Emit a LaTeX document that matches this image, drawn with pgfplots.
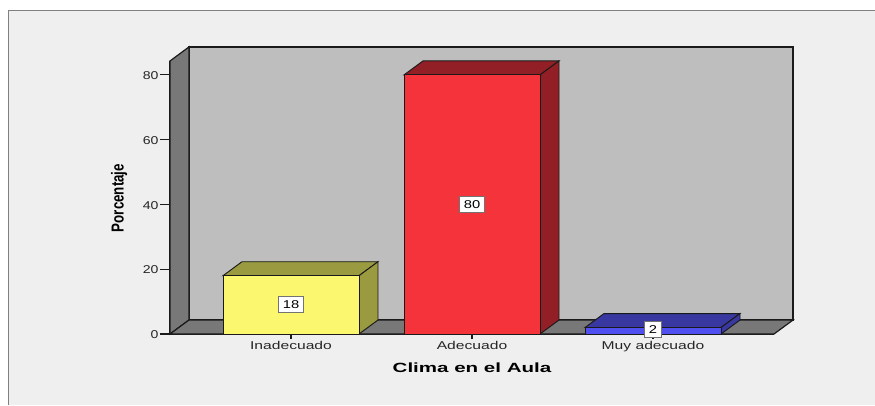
\documentclass[border=0pt]{standalone}
\usepackage{fontspec}
\setmainfont{Liberation Sans}
\usepackage{pgfplots}
\pgfplotsset{compat=1.18}
% 1 px of the reference = 0.75pt
\definecolor{panel}{HTML}{EFEFEF}
\definecolor{wall}{HTML}{BEBEBE}
\definecolor{wallside}{HTML}{787878}
\definecolor{yfront}{HTML}{FBF870}
\definecolor{ydark}{HTML}{9A9A40}
\definecolor{rfront}{HTML}{F4333A}
\definecolor{rdark}{HTML}{921F25}
\definecolor{bfront}{HTML}{5050F0}
\definecolor{bdark}{HTML}{3838A0}
\definecolor{edge}{HTML}{1A1A1A}
\begin{document}
\begin{tikzpicture}[x=1pt,y=1pt]
\useasboundingbox (0,0) rectangle (656.25,303.75);
\fill[white] (0,0) rectangle (656.25,303.75);
\fill[panel] (6.5,0) rectangle (656.25,296);
\draw[gray,line width=1pt] (6.5,0) -- (6.5,296) -- (656.25,296);
\begin{axis}[
	at={(127.5pt,53.25pt)},anchor=south west,
	scale only axis,width=453pt,height=204.75pt,
	xmin=-0.6685,xmax=2.6685,ymin=0,ymax=84.3,
	clip=false,
	axis x line*=bottom,axis y line*=left,
	axis line style={edge,line width=0.9pt,-},
	xtick={0,1,2},
	xticklabels={Inadecuado,Adecuado,Muy adecuado},
	ytick={0,20,40,60,80},
	tick align=outside,
	xtick style={edge,line width=0.8pt,/pgfplots/major tick length=3.75pt},
	ytick style={edge,line width=0.8pt,/pgfplots/major tick length=7.5pt},
	/pgf/number format/assume math mode=true,
	tick label style={font=\fontsize{8.5}{10}\selectfont,text=black!85,xscale=1.38},
	xticklabel style={yshift=2.5pt},
	yticklabel style={xshift=0pt,xscale=0.9,yshift=-0.5pt},
	xlabel={Clima en el Aula},
	ylabel={Porcentaje},
	xlabel style={at={(axis description cs:0.5,-0.124)},anchor=center,font=\fontsize{10}{12}\selectfont\bfseries,xscale=1.54},
	ylabel style={at={(axis description cs:-0.0844,0.498)},anchor=center,font=\fontsize{13}{14}\selectfont\bfseries,xscale=0.77},
	nodes near coords,
]
% walls and floor
\addplot[fill=wall,draw=edge,line width=0.9pt,nodes near coords={}] coordinates {(-0.5635,4.32)(2.7735,4.32)(2.7735,88.65)(-0.5635,88.65)} --cycle;
\addplot[fill=wallside,draw=edge,line width=0.9pt,nodes near coords={}] coordinates {(-0.6685,0)(-0.5635,4.32)(-0.5635,88.65)(-0.6685,84.3)} --cycle;
\addplot[fill=wallside,draw=edge,line width=0.9pt,nodes near coords={}] coordinates {(-0.6685,0)(2.6685,0)(2.7735,4.32)(-0.5635,4.32)} --cycle;
% Inadecuado
\addplot[fill=ydark,draw=edge,line width=0.7pt,nodes near coords={}] coordinates {(-0.3757,18)(0.3757,18)(0.4807,22.32)(-0.2707,22.32)} --cycle;
\addplot[fill=ydark,draw=edge,line width=0.7pt,nodes near coords={}] coordinates {(0.3757,0)(0.4807,4.32)(0.4807,22.32)(0.3757,18)} --cycle;
\addplot[fill=yfront,draw=edge,line width=0.7pt,nodes near coords={}] coordinates {(-0.3757,0)(0.3757,0)(0.3757,18)(-0.3757,18)} --cycle;
% Adecuado
\addplot[fill=rdark,draw=edge,line width=0.7pt,nodes near coords={}] coordinates {(0.6243,80)(1.3757,80)(1.4807,84.32)(0.7293,84.32)} --cycle;
\addplot[fill=rdark,draw=edge,line width=0.7pt,nodes near coords={}] coordinates {(1.3757,0)(1.4807,4.32)(1.4807,84.32)(1.3757,80)} --cycle;
\addplot[fill=rfront,draw=edge,line width=0.7pt,nodes near coords={}] coordinates {(0.6243,0)(1.3757,0)(1.3757,80)(0.6243,80)} --cycle;
% Muy adecuado
\addplot[fill=bdark,draw=edge,line width=0.7pt,nodes near coords={}] coordinates {(1.6243,2)(2.3757,2)(2.4807,6.32)(1.7293,6.32)} --cycle;
\addplot[fill=bdark,draw=edge,line width=0.7pt,nodes near coords={}] coordinates {(2.3757,0)(2.4807,4.32)(2.4807,6.32)(2.3757,2)} --cycle;
\addplot[fill=bfront,draw=edge,line width=0.7pt,nodes near coords={}] coordinates {(1.6243,0)(2.3757,0)(2.3757,2)(1.6243,2)} --cycle;
% value labels
\addplot[draw=none,mark=none,point meta=explicit symbolic,
	nodes near coords style={anchor=center,fill=white,draw=black!55,line width=0.9pt,inner xsep=2.5pt,inner ysep=3pt,font=\fontsize{8.5}{10}\selectfont,xscale=1.3,text=black}]
	coordinates {(0,9)[18] (1,40)[80] (2,1.3)[2]};
\end{axis}
\end{tikzpicture}
\end{document}
